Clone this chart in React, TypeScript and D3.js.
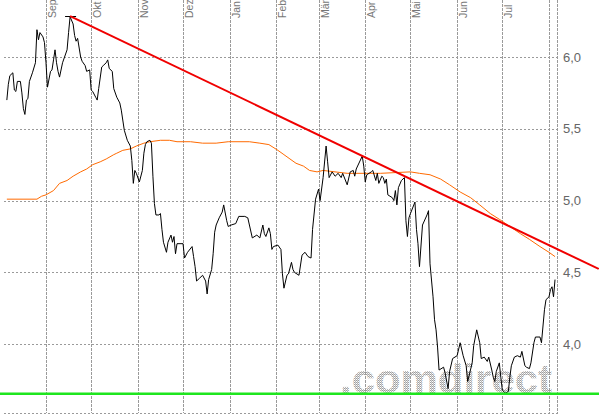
import React from "react";
import * as d3 from "d3";

// ---- data (day offsets since 2010-08-01, closing prices) ----
const DAYS = [5,6,7,9,10,11,12,14,15,16,17,18,19,20,22,24,25,26,27,29,30,31,32,34,35,36,37,38,39,40,42,45,46,47,49,50,51,52,54,55,57,58,60,61,62,64,65,66,68,69,71,72,73,75,76,78,80,81,83,85,87,88,89,90,91,93,95,96,97,98,100,101,102,103,104,106,107,108,109,111,112,114,115,116,117,118,122,123,125,128,129,130,131,133,135,137,138,139,141,142,143,144,146,148,149,151,152,154,157,159,163,165,168,171,173,175,176,177,179,180,181,182,185,187,188,189,191,192,194,195,196,199,201,203,205,207,208,210,212,213,215,217,218,219,221,223,225,227,228,231,233,235,236,237,241,242,243,244,247,248,250,251,252,254,255,256,257,258,261,262,263,264,265,267,269,270,271,272,273,276,277,278,279,281,284,285,286,288,289,290,291,292,295,296,298,299,301,304,306,308,310,311,314,315,317,319,320,322,324,325,327,328,329,330,332,333,334,336,338,339,340,342,344,346,347,349,350,352,353,355,356,359,360,362,363,365,366,367,368,369];
const CLOSE = [5.70,5.81,5.87,5.89,5.77,5.76,5.83,5.83,5.75,5.64,5.60,5.70,5.71,5.83,5.89,5.96,6.19,6.12,6.17,6.14,6.10,5.96,5.79,5.90,5.91,5.98,6.05,5.96,5.90,5.86,5.96,6.05,6.17,6.28,6.23,6.15,6.11,6.13,6.00,5.97,5.94,5.90,5.91,5.77,5.76,5.72,5.70,5.78,5.93,5.94,5.96,5.98,5.92,5.90,5.78,5.72,5.68,5.63,5.49,5.42,5.38,5.28,5.12,5.21,5.19,5.13,5.21,5.33,5.39,5.41,5.42,5.40,5.17,4.98,4.90,4.90,4.91,4.80,4.71,4.64,4.71,4.76,4.71,4.75,4.63,4.70,4.70,4.60,4.64,4.68,4.61,4.54,4.44,4.46,4.48,4.44,4.35,4.45,4.52,4.63,4.78,4.83,4.88,4.92,4.97,4.86,4.82,4.83,4.84,4.89,4.89,4.88,4.74,4.76,4.74,4.83,4.77,4.75,4.81,4.77,4.66,4.68,4.69,4.66,4.49,4.39,4.48,4.49,4.57,4.52,4.50,4.48,4.62,4.64,4.61,4.60,4.80,5.01,5.08,5.00,5.16,5.38,5.27,5.16,5.20,5.17,5.19,5.16,5.19,5.11,5.20,5.21,5.17,5.22,5.31,5.24,5.13,5.18,5.20,5.21,5.14,5.19,5.12,5.17,5.16,5.12,5.15,5.04,5.02,5.00,5.07,4.97,5.09,5.14,5.16,4.86,4.75,4.88,4.91,4.99,4.80,4.70,4.54,4.83,4.90,4.93,4.56,4.33,4.17,4.10,3.98,3.82,3.84,3.80,3.69,3.81,3.90,3.92,4.01,3.92,3.85,3.74,3.87,3.99,4.10,4.01,3.90,3.91,3.88,3.91,3.82,3.77,3.74,3.81,3.87,3.77,3.68,3.66,3.67,3.77,3.85,3.91,3.92,3.91,3.95,3.85,3.84,3.83,3.87,4.01,4.05,4.05,4.01,4.24,4.31,4.33,4.38,4.40,4.33,4.45];

const MA_DAYS = [5,25,28,31,36,40,45,49,54,58,62,67,71,76,78,82,87,91,96,100,107,113,118,127,135,144,152,166,173,179,185,189,193,197,202,206,211,215,231,253,273,279,286,293,299,306,313,319,326,332,339,346,352,359,365,369];
const MA_VALUES = [5.01,5.01,5.03,5.04,5.07,5.12,5.14,5.17,5.20,5.22,5.25,5.27,5.29,5.32,5.33,5.35,5.36,5.38,5.40,5.41,5.42,5.42,5.41,5.41,5.40,5.40,5.41,5.41,5.40,5.39,5.35,5.32,5.29,5.26,5.24,5.21,5.20,5.21,5.19,5.19,5.20,5.19,5.18,5.15,5.11,5.06,5.02,4.97,4.91,4.87,4.82,4.77,4.73,4.68,4.64,4.61];

const TREND_DAYS = [47, 398];
const TREND_PRICES = [6.285, 4.524];
const SUPPORT_PRICE = 3.655;
const PEAK_DAY = 47;
const PEAK_PRICE = 6.285;

const MONTH_LABELS = ["Sep", "Okt", "Nov", "Dez", "Jan", "Feb", "Mär", "Apr", "Mai", "Jun", "Jul"];
const Y_TICKS = [4.0, 4.5, 5.0, 5.5, 6.0];
const Y_TICK_LABELS = ["4,0", "4,5", "5,0", "5,5", "6,0"];
const WATERMARK = ".comdirect";

const START = Date.UTC(2010, 7, 1);
const DAY_MS = 86400000;
const toDate = (d: number) => new Date(START + d * DAY_MS);

export default function App() {
  const W = 599, H = 416;
  const plotL = 4, plotR = 557, plotT = 0, plotB = 413;

  const x = d3.scaleUtc().domain([new Date(START), new Date(Date.UTC(2011, 7, 1))]).range([-0.7, 549]);
  const y = d3.scaleLinear().domain([4, 6]).range([344.2, 57]);

  const months = d3.utcMonth.range(new Date(Date.UTC(2010, 8, 1)), new Date(Date.UTC(2011, 7, 2)));

  const line = d3.line<[number, number]>()
    .x((p) => x(toDate(p[0])))
    .y((p) => y(p[1]));

  const priceData: [number, number][] = DAYS.map((d, i) => [d, CLOSE[i]]);
  const maData: [number, number][] = MA_DAYS.map((d, i) => [d, MA_VALUES[i]]);
  const trendData: [number, number][] = TREND_DAYS.map((d, i) => [d, TREND_PRICES[i]]);

  const snap = (v: number) => Math.round(v) + 0.5;
  const gridColor = "#9a9a9a";
  const font = "'Liberation Sans', Arial, Helvetica, sans-serif";

  const px = x(toDate(PEAK_DAY));
  const py = y(PEAK_PRICE);

  return (
    <svg width={W} height={H} style={{ position: "absolute", left: 0, top: 0, background: "#fff" }}>
      <defs>
        <pattern id="dots" width="2" height="2" patternUnits="userSpaceOnUse">
          <rect x="0" y="0" width="1" height="1" fill="#9c9c9c" />
          <rect x="1" y="1" width="1" height="1" fill="#b4b4b4" />
          <rect x="1" y="0" width="1" height="1" fill="#d8d8d8" />
        </pattern>
      </defs>
      <rect x={0} y={0} width={W} height={H} fill="#fff" />

      {/* watermark */}
      <text x={340} y={393} fontFamily={font} fontWeight="bold" fontSize={40} fill="url(#dots)" textLength={212} lengthAdjust="spacingAndGlyphs">
        {WATERMARK}
      </text>

      {/* horizontal grid */}
      {Y_TICKS.map((t) => (
        <line key={"h" + t} x1={plotL} x2={plotR} y1={snap(y(t))} y2={snap(y(t))} stroke={gridColor} strokeWidth={1} strokeDasharray="2,2" />
      ))}
      <line x1={plotL} x2={plotR} y1={plotB + 0.5} y2={plotB + 0.5} stroke={gridColor} strokeWidth={1} strokeDasharray="2,2" />

      {/* vertical month grid */}
      {months.map((m, i) => (
        <line key={"v" + i} x1={snap(x(m))} x2={snap(x(m))} y1={plotT} y2={plotB} stroke={gridColor} strokeWidth={1} strokeDasharray="3,1" />
      ))}
      <line x1={plotR + 0.5} x2={plotR + 0.5} y1={plotT} y2={plotB + 1} stroke={gridColor} strokeWidth={1} strokeDasharray="3,1" />

      {/* month labels */}
      {months.slice(0, MONTH_LABELS.length).map((m, i) => {
        const lx = snap(x(m)) + 9;
        return (
          <text key={"ml" + i} transform={`translate(${lx},18) rotate(-90)`} fontFamily={font} fontSize={10.5} fill="#777">
            {MONTH_LABELS[i]}
          </text>
        );
      })}

      {/* y labels */}
      {Y_TICKS.map((t, i) => (
        <text key={"yl" + t} x={563} y={y(t) + 4.5} fontFamily={font} fontSize={13} fill="#666">
          {Y_TICK_LABELS[i]}
        </text>
      ))}

      {/* moving average */}
      <path d={line(maData) || ""} fill="none" stroke="#ff6a00" strokeWidth={1} />

      {/* price */}
      <path d={line(priceData) || ""} fill="none" stroke="#000" strokeWidth={1} strokeLinejoin="miter" />

      {/* peak marker */}
      <line x1={px - 5} x2={px + 6} y1={snap(py)} y2={snap(py)} stroke="#000" strokeWidth={1} />

      {/* trend line */}
      <path d={line(trendData) || ""} fill="none" stroke="#f00000" strokeWidth={2} />

      {/* support */}
      <line x1={0} x2={W} y1={y(SUPPORT_PRICE)} y2={y(SUPPORT_PRICE)} stroke="#1ee61e" strokeWidth={2.5} />
    </svg>
  );
}
